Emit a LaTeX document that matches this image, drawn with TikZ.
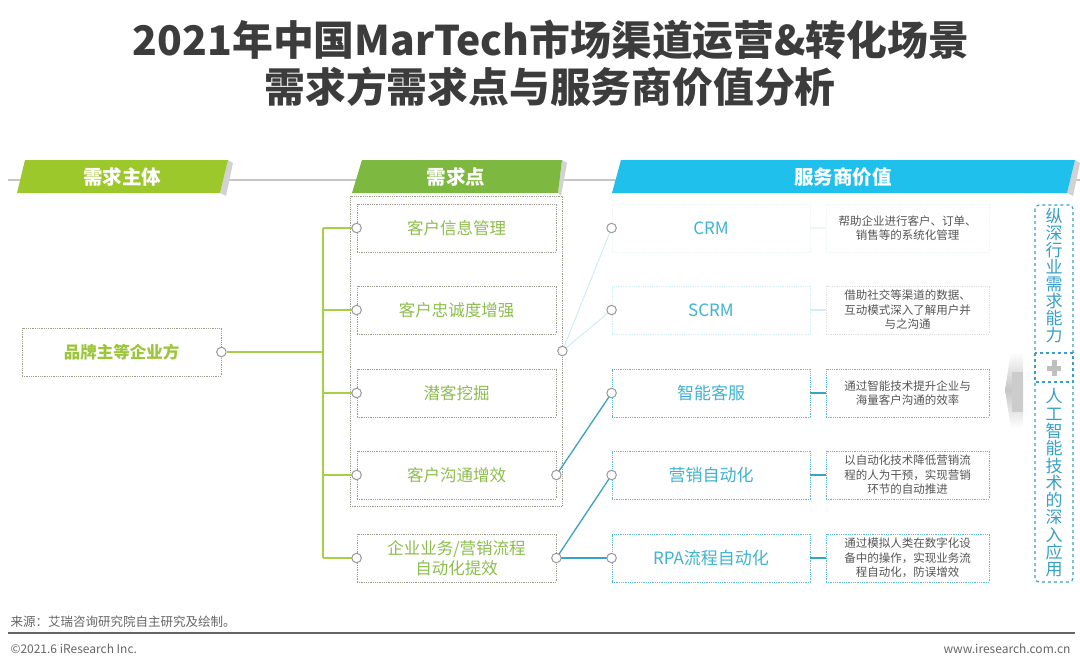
\documentclass[tikz,border=0pt]{standalone}
\usepackage{fontspec}
\setmainfont{Noto Sans CJK SC}
\usetikzlibrary{positioning}
\definecolor{titlegray}{HTML}{3C3C3C}
\definecolor{greenA}{HTML}{9DC82C}
\definecolor{greenB}{HTML}{7DB840}
\definecolor{cyanBan}{HTML}{1FC0EC}
\definecolor{greenT}{HTML}{8DBD4E}
\definecolor{greenBold}{HTML}{9CC63A}
\definecolor{greenLine}{HTML}{A8CF48}
\definecolor{dotgray}{HTML}{9A9C8C}
\definecolor{cyanT}{HTML}{3FB3D2}
\definecolor{teal}{HTML}{3AA3BD}
\definecolor{cyanDot}{HTML}{5BBCCF}
\definecolor{faint}{HTML}{D3EEF3}
\definecolor{fainter}{HTML}{EEF5F6}
\definecolor{descgray}{HTML}{555555}
\definecolor{panel}{HTML}{3A9FC8}
\definecolor{footgray}{HTML}{666666}
\begin{document}
\begin{tikzpicture}[x=1pt,y=-1pt,
  dbox/.style={draw=dotgray, densely dotted, line width=0.8pt, inner sep=0pt, minimum width=199pt, minimum height=48pt, align=center},
  sbox/.style={draw=cyanDot, densely dotted, line width=0.8pt, inner sep=0pt, minimum width=198pt, minimum height=48pt, text=cyanT, font=\fontsize{17}{20}\selectfont},
  descbox/.style={draw=cyanDot, densely dotted, line width=0.8pt, inner sep=0pt, minimum width=163pt, minimum height=48pt, align=center, text=descgray, font=\fontsize{11.5}{14.5}\selectfont},
  circ/.style={circle, draw=gray!80, fill=white, line width=1pt, minimum size=9.5pt, inner sep=0pt},
  gline/.style={draw=greenLine, line width=1.3pt},
  tline/.style={draw=teal, line width=1.3pt},
  fline/.style={draw=faint, line width=1.1pt},
  demtext/.style={text=greenT, font=\fontsize{16.5}{20}\selectfont},
  bantext/.style={text=white, font=\bfseries\fontsize{19.5}{22}\selectfont},
  vtext/.style={text=panel, align=center, inner sep=0pt}
]
\useasboundingbox (0,0) rectangle (1080,669);
\fill[white] (0,0) rectangle (1080,669);

% title
\node[text=titlegray, font=\bfseries\fontsize{40.8}{46}\selectfont] (title1) at (551,40) {2021年中国MarTech市场渠道运营\&转化场景};
\node[text=titlegray, font=\bfseries\fontsize{40.8}{46}\selectfont] (title2) at (550,87) {需求方需求点与服务商价值分析};

% header line
\draw[gray!45, line width=1.2pt] (8,180) -- (1080,180);

% banners
\fill[gray!35] (228,160) -- (233,163) -- (226,196) -- (220,193) -- cycle;
\fill[greenA] (25,160) -- (228,160) -- (220,193) -- (17,193) -- cycle;
\node[bantext] (ban1) at (122,177) {需求主体};
\fill[gray!35] (562,160) -- (567,163) -- (561,196) -- (558,193) -- cycle;
\fill[greenB] (362,160) -- (562,160) -- (558,193) -- (352,193) -- cycle;
\node[bantext] (ban2) at (456,177) {需求点};
\fill[gray!35] (1075,160) -- (1080,163) -- (1073,196) -- (1067,193) -- cycle;
\fill[cyanBan] (621,160) -- (1075,160) -- (1067,193) -- (612,193) -- cycle;
\node[bantext] (ban3) at (843,177) {服务商价值};

% brand box
\node[dbox, text=greenBold, font=\bfseries\fontsize{16.5}{20}\selectfont] (brand) at (121.5,352) {品牌主等企业方};
\node[circ] (brandc) at (brand.east) {};

% demand container
\node[draw=dotgray, densely dotted, line width=0.8pt, minimum width=212pt, minimum height=310pt, inner sep=0pt] (cont) at (456,351) {};

\node[dbox, demtext] (d1) at (456.5,228) {客户信息管理};
\node[dbox, demtext] (d2) at (456.5,310) {客户忠诚度增强};
\node[dbox, demtext] (d3) at (456.5,393) {潜客挖掘};
\node[dbox, demtext] (d4) at (456.5,475) {客户沟通增效};
\node[dbox, demtext, font=\fontsize{16.5}{19.5}\selectfont] (d5) at (456.5,558) {企业业务/营销流程\\自动化提效};

% trunk
\coordinate (t1) at (323,228);
\coordinate (t5) at (323,558);
\draw[gline] (t1) -- (t5);
\draw[gline] (brandc) -- (brandc -| t1);
\foreach \i in {1,...,5} {
  \coordinate (d\i w) at (d\i.west);
  \draw[gline] (d\i w -| t1) -- (d\i w);
  \node[circ] (d\i l) at (d\i w) {};
}

% service boxes
\node[sbox, draw=fainter] (s1) at (711,228) {CRM};
\node[sbox, draw=faint] (s2) at (711,310) {SCRM};
\node[sbox] (s3) at (711,393) {智能客服};
\node[sbox] (s4) at (711,475) {营销自动化};
\node[sbox] (s5) at (711,558) {RPA流程自动化};

% descriptions
\node[descbox, draw=fainter] (e1) at (907.5,228) {帮助企业进行客户、订单、\\销售等的系统化管理};
\node[descbox, draw=gray!25] (e2) at (907.5,310) {借助社交等渠道的数据、\\互动模式深入了解用户并\\与之沟通};
\node[descbox] (e3) at (907.5,393) {通过智能技术提升企业与\\海量客户沟通的效率};
\node[descbox] (e4) at (907.5,475) {以自动化技术降低营销流\\程的人为干预，实现营销\\环节的自动推进};
\node[descbox] (e5) at (907.5,558) {通过模拟人类在数字化设\\备中的操作，实现业务流\\程自动化，防误增效};

\draw[draw=fainter, line width=1.2pt] (s1.east) -- (e1.west);
\draw[draw=faint, line width=1.2pt] (s2.east) -- (e2.west);
\draw[tline] (s3.east) -- (e3.west);
\draw[tline] (s4.east) -- (e4.west);
\draw[tline] (s5.east) -- (e5.west);

% connectors demand -> service
\foreach \i in {1,...,5} { \coordinate (s\i p) at (s\i.west); }
\draw[fline] (cont.east) -- (s1p);
\draw[fline] (cont.east) -- (s2p);
\draw[tline] (d4.east) -- (s3p);
\draw[tline] (d5.east) -- (s4p);
\draw[tline] (d5.east) -- (s5p);
\node[circ] (contc) at (cont.east) {};
\node[circ] (d4r) at (d4.east) {};
\node[circ] (d5r) at (d5.east) {};
\foreach \i in {1,...,5} { \node[circ] (s\i c) at (s\i.west) {}; }

% chevron
\shade[top color=white, bottom color=white, middle color=gray!45]
  (1023,352) -- (1011,352) -- (1005,390) -- (1011,428) -- (1023,428) -- cycle;
\fill[gray!40] (1012,372) rectangle (1023,412);

% right panel
\draw[panel, dashed, line width=1.2pt, rounded corners=4pt] (1035,205) rectangle (1073,582);
\draw[panel, dashed, line width=1.2pt, fill=white] (1035,353) rectangle (1073,382);
\fill[gray!50] (1047,365.5) rectangle (1061,370.5);
\fill[gray!50] (1051.5,360) rectangle (1056.5,376);
\node[vtext, font=\fontsize{17}{17}\selectfont] (v1) at (1054,276) {纵\\深\\行\\业\\需\\求\\能\\力};
\node[vtext, font=\fontsize{17}{17.3}\selectfont] (v2) at (1054,483) {人\\工\\智\\能\\技\\术\\的\\深\\入\\应\\用};

% footer
\node[anchor=west, text=footgray, font=\fontsize{12.5}{14}\selectfont] (src) at (7,622) {来源：艾瑞咨询研究院自主研究及绘制。};
\draw[gray!80!black, line width=1.5pt] (8,633) -- (1075,633);
\node[anchor=west, text=footgray, font=\fontsize{12}{14}\selectfont] (copy) at (7,649) {©2021.6 iResearch Inc.};
\node[anchor=east, text=footgray, font=\fontsize{12}{14}\selectfont] (web) at (1074,649) {www.iresearch.com.cn};
\end{tikzpicture}
\end{document}
